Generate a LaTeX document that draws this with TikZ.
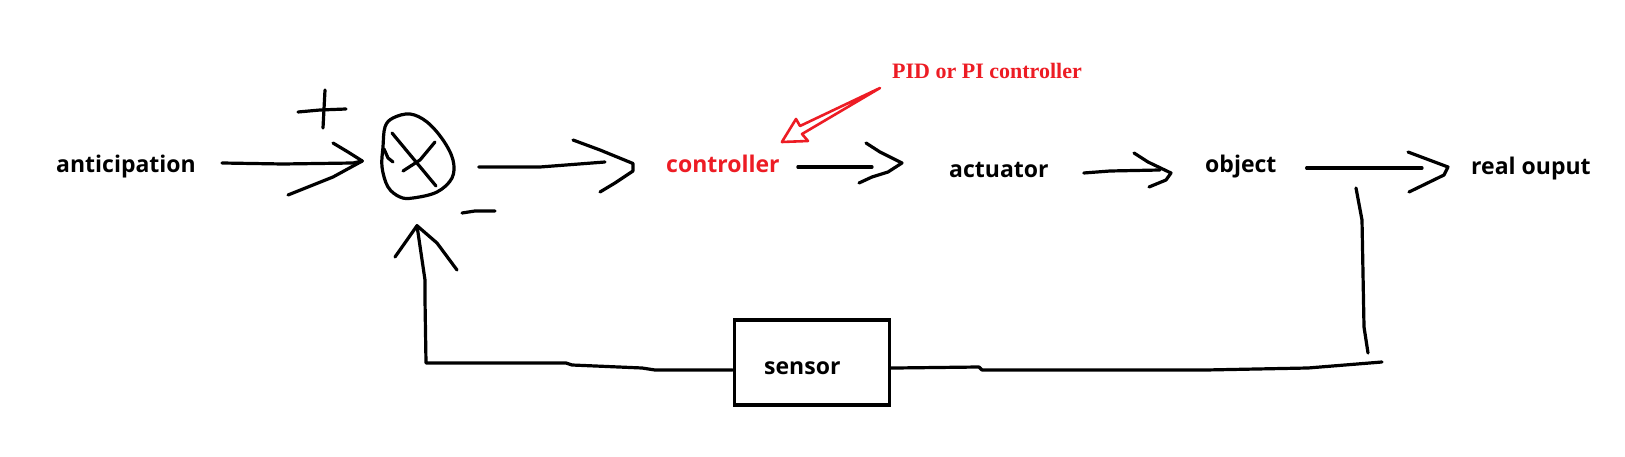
\documentclass[tikz,border=0pt]{standalone}
\usepackage{fontspec}
\newfontfamily\lblfont{Open Sans}
\newfontfamily\pidfont{Liberation Serif}
\usetikzlibrary{shapes.geometric}
\definecolor{pred}{RGB}{237,28,36}
\begin{document}
\begin{tikzpicture}[x=1pt,y=-1pt,
  stroke/.style={line width=3.2pt,line cap=round,line join=round},
  redstroke/.style={line width=2.6pt,line cap=round,line join=round,draw=pred},
  lbl/.style={inner sep=0pt,anchor=base west,font=\lblfont\bfseries\fontsize{23}{28}\selectfont},
  boxstyle/.style={draw,line width=3.2pt,minimum width=155pt,minimum height=85pt,inner sep=0pt}
]
\useasboundingbox[fill=white] (0,0) rectangle (1625,457);

% labels
\node[lbl] (anticipation) at (56,173) {anticipation};
\node[lbl,text=pred] (controller) at (666,172.5) {controller};
\node[lbl] (actuator) at (949,178) {actuator};
\node[lbl] (object) at (1205,173) {object};
\node[lbl] (output) at (1471,175) {real ouput};
\node[inner sep=0pt,anchor=base west,text=pred,font=\pidfont\bfseries\fontsize{22}{26}\selectfont] (pid) at (892,79) {PID or PI controller};

% summing junction
\node[ellipse,minimum width=71pt,minimum height=83pt,inner sep=0pt] (sum) at (418,156) {};
\draw[stroke] plot[smooth cycle,tension=0.6] coordinates {(410,114) (427,122) (443,140) (453,160) (452,178) (437,192) (413,198) (400,197) (388,187) (382,167) (383,147) (385,127) (393,118)};
\draw[stroke] (392,133) -- (436,186);
\draw[stroke] (435,142) -- (420,160) -- (403,171);
\draw[stroke] (384,149) -- (388,158) -- (393,162);
% signs
\draw[stroke] (298,112) -- (320,110) -- (346,109);
\draw[stroke] (325,90) -- (323,128);
\draw[stroke] (462,213) -- (475,211) -- (495,211);

% sensor
\node[boxstyle] (sensorbox) at (811.7,362.5) {};
\node[lbl] (sensor) at (764,374) {sensor};

% arrow tips
\coordinate (t1) at ([shift={(-20,5)}]sum.west);
\coordinate (t2) at ([shift={(-33,-9)}]controller.base west);
\coordinate (t3) at ([shift={(-47,-15)}]actuator.base west);
\coordinate (t4) at ([shift={(-34,0)}]object.base west);
\coordinate (t5) at ([shift={(-23,-8)}]output.base west);
\coordinate (t6) at ([shift={(-1,28)}]sum.south);

% anticipation -> sum
\draw[stroke] ([shift={(26,-10)}]anticipation.base east) -- (283,164) -- (353,163) -- (t1);
\draw[stroke] (333,143) -- (348,152) -- (t1) -- (333,177) -- (288,195);
% sum -> controller
\draw[stroke] ([shift={(25,11)}]sum.east) -- (540,167) -- (605,162);
\draw[stroke] (573,140) -- (600,150) -- (t2) -- (633,171) -- (615,183) -- (600,192);
% controller -> actuator
\draw[stroke] ([shift={(18,-5.5)}]controller.base east) -- (872,167);
\draw[stroke] (866,143) -- (880,152) -- (t3) -- (888,172) -- (872,177) -- (859,183);
% actuator -> object
\draw[stroke] ([shift={(35,-5)}]actuator.base east) -- (1110,171) -- (1160,170);
\draw[stroke] (1134,153) -- (1148,162) -- (t4) -- (1166,180) -- (1149,187);
% object -> real ouput
\draw[stroke] ([shift={(30,-5)}]object.base east) -- (1422,168);
\draw[stroke] (1408,152) -- (t5) -- (1444,175) -- (1409,192);

% feedback
\coordinate (fb) at (1356,188);
\draw[stroke] (fb) -- (1362,220) -- (1364,327) -- (1368,353);
\draw[stroke] (1382,362) -- (1308,368) -- (1206,370) -- (982,370) -- (979,367) -- (895,368) -- ([shift={(0,5.5)}]sensorbox.east);
\draw[stroke] ([shift={(0,7.5)}]sensorbox.west) -- (655,370) -- (642,368) -- (572,365) -- (566,363) -- (426,363) -- (425,300) -- (425,280) -- (t6);
\draw[stroke] (395,257) -- (407,240) -- (t6) -- (437,243) -- (457,270);

% red annotation arrow
\coordinate (tail) at ([shift={(-12,9)}]pid.base west);
\coordinate (rtip) at ([shift={(2,-30.5)}]controller.base east);
\draw[redstroke] (tail) -- (800,126) -- (796,119) -- (rtip) -- (808,141) -- (802,134) -- cycle;
\end{tikzpicture}
\end{document}
